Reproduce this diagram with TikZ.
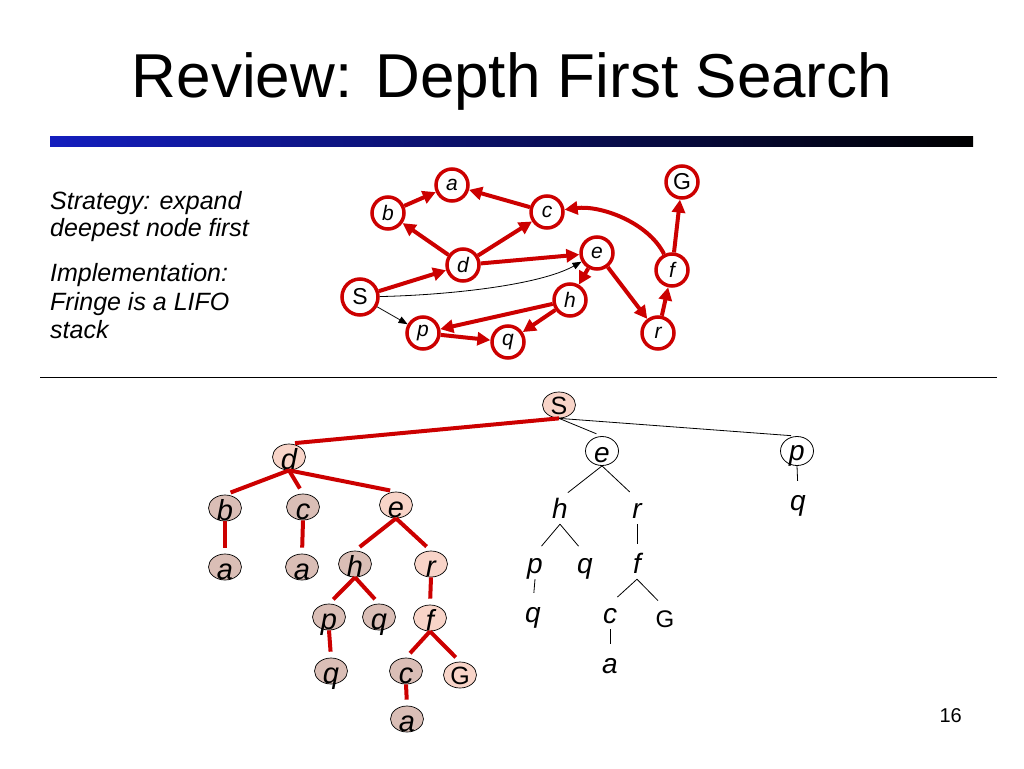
\documentclass[tikz,border=0pt]{standalone}
\usepackage{fontspec}
\setmainfont{Liberation Sans}
\usetikzlibrary{arrows.meta,shapes.geometric}
\definecolor{dred}{RGB}{204,0,0}
\definecolor{pathfill}{RGB}{248,212,200}
\definecolor{donefill}{RGB}{218,190,182}
\definecolor{barblue}{RGB}{20,30,190}
\newcommand{\lowered}[2][12pt]{\smash{\raisebox{-#1}{#2}}}

\begin{document}
\begin{tikzpicture}[x=1pt,y=-1pt,
  gnode/.style={circle,draw=dred,line width=3.5pt,fill=white,minimum size=32pt,inner sep=0pt,font=\fontsize{21}{21}\selectfont\itshape},
  gbig/.style={gnode,font=\fontsize{23}{23}\selectfont},
  gedge/.style={draw=dred,line width=4pt,-{Triangle[length=13pt,width=13pt]}},
  thinarrow/.style={draw=black,line width=0.8pt,-{Triangle[length=9pt,width=7pt]}},
  tnode/.style={ellipse,draw=black,line width=0.7pt,minimum width=33pt,minimum height=26pt,inner sep=0pt,font=\fontsize{29}{29}\selectfont\itshape},
  tedge/.style={draw=dred,line width=4pt,shorten >=6pt},
  unode/.style={anchor=base,inner sep=0pt,text height=19pt,text depth=6pt,font=\fontsize{28}{28}\selectfont\itshape},
  uring/.style={ellipse,draw=black,line width=0.8pt,minimum width=33pt,minimum height=29pt,inner sep=0pt,font=\fontsize{28}{28}\selectfont\itshape},
  uedge/.style={draw=black,line width=0.8pt,shorten >=#1},
  uedge/.default=10pt]
\useasboundingbox (0,0) rectangle (1024,768);

\node[anchor=base,font=\fontsize{62}{70}\selectfont] (title) at (512,97) {Review: Depth First Search};
\shade[left color=barblue,right color=black] (50,136) rectangle (973,146);
\foreach \y/\txt in {209/Strategy: expand,236/deepest node first,281/Implementation:,310/Fringe is a LIFO,338/stack}{%
\node[anchor=base west,inner sep=0pt,font=\fontsize{25}{28}\selectfont\itshape] at (50,\y) {\txt};
}
\draw[line width=0.8pt] (40,377) -- (997,377);
\node[anchor=base east,inner sep=0pt,font=\fontsize{20}{20}\selectfont] (page) at (962,722) {16};

\foreach \nm/\x/\y/\t in {ga/452/185/a,gb/388/213/b,gc/547/212/c,gd/463/265/d,ge/597/253/e,gf/672/270/f,gh/570/300/h,gp/423/333/p,gq/508/342/q,gr/658/333/r}{%
\node[gnode] (\nm) at (\x,\y) {\t};
}
\node[gbig,minimum size=36pt] (gS) at (360,297) {S};
\node[gbig] (gG) at (682,182) {G};
\foreach \u/\v in {gb/ga,gc/ga,gd/gb,gd/gc,gd/ge,gS/gd,ge/gh,ge/gr,gh/gp,gh/gq,gp/gq,gr/gf,gf/gG}{%
\draw[gedge] (\u) -- (\v);
}
\draw[gedge] (gf) .. controls (648,222) and (600,205) .. (gc);
\draw[thinarrow] (gS) .. controls (450,295) and (540,285) .. (ge);
\draw[thinarrow] (gS) -- (gp);

\foreach \nm/\x/\y/\t/\c in {td/289/457/d/pathfill,tb/225/508/b/donefill,tc/303/507/c/donefill,te/396/505/e/pathfill,tba/225/567/a/donefill,tca/302/567/a/donefill,th/355/564/h/donefill,tr/431/564/r/pathfill,thp/329/617/p/donefill,thq/379/617/q/donefill,trf/430/618/f/pathfill,thpq/331/671/q/donefill,tfc/406/671/c/donefill,tfca/407/719/a/donefill}{%
\node[tnode,fill=\c] (\nm) at (\x,\y) {\lowered{\t}};
}
\node[tnode,fill=pathfill,font=\fontsize{25}{25}\selectfont] (tS) at (559,405) {\lowered[9pt]{S}};
\node[tnode,fill=pathfill,font=\fontsize{25}{25}\selectfont] (tfG) at (460,675) {\lowered[9pt]{G}};
\foreach \u/\v in {tS/td,td/tb,td/tc,td/te,tb/tba,tc/tca,te/th,te/tr,th/thp,th/thq,tr/trf,thp/thpq,trf/tfc,trf/tfG,tfc/tfca}{%
\draw[tedge] (\u.south) -- (\v.north);
}

\node[uring] (ue) at (602,451) {\lowered[11pt]{e}};
\node[uring] (up) at (797,451) {\lowered[9pt]{p}};
\foreach \nm/\x/\y/\t in {upq/798/510/q,ueh/560/518/h,uer/637/518/r,uehp/535/573/p,uehq/585/573/q,uerf/637/573/f,uehpq/533/622/q,uerfc/610/623/c,uerfca/610/673/a}{%
\node[unode] (\nm) at (\x,\y) {\t};
}
\node[unode,font=\fontsize{24}{24}\selectfont] (uerfG) at (665,627) {G};
\draw[uedge=6pt] (tS.south) -- (ue.north);
\draw[uedge=6pt] (tS.south) -- (up.north);
\foreach \u/\v in {ue/ueh,ue/uer,up/upq,ueh/uehp,ueh/uehq,uer/uerf,uehp/uehpq,uerf/uerfc,uerf/uerfG,uerfc/uerfca}{%
\draw[uedge] (\u.south) -- (\v.north);
}

\end{tikzpicture}
\end{document}
